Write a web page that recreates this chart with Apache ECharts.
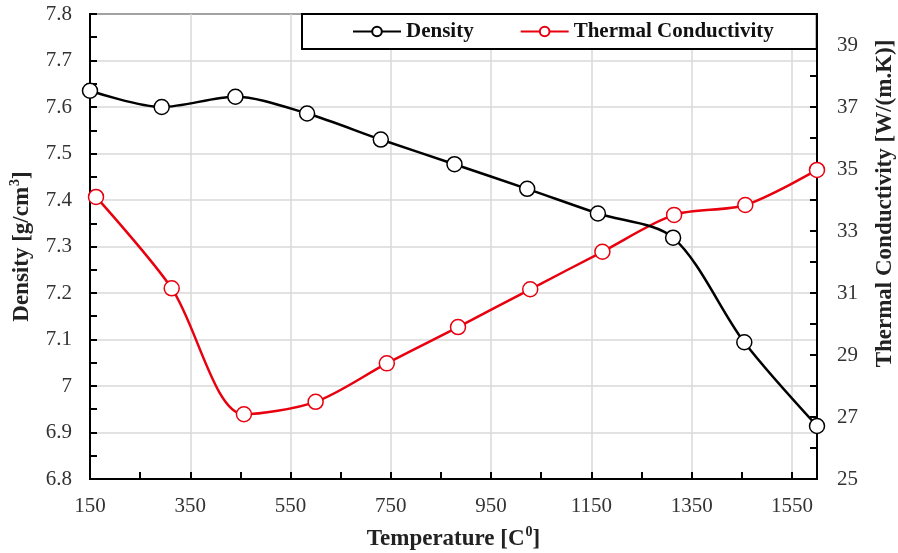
<!DOCTYPE html>
<html>
<head>
<meta charset="utf-8">
<script src="https://cdn.jsdelivr.net/npm/echarts@6/dist/echarts.min.js"></script>
<style>
  html, body { margin: 0; padding: 0; background: #fff; }
  #chart { width: 898px; height: 553px; }
</style>
</head>
<body>
<div id="chart"></div>
<script>
// values
const densityTemps = [150, 293, 440, 583, 730, 877, 1022, 1163, 1313, 1455, 1600];
const density = [7.635, 7.600, 7.622, 7.586, 7.530, 7.477, 7.424, 7.371, 7.319, 7.094, 6.914];
const conductivityTemps = [162, 313, 457, 600, 742, 884, 1028, 1172, 1315, 1457, 1600];
const conductivity = [34.1, 31.15, 27.09, 27.49, 28.73, 29.9, 31.12, 32.33, 33.52, 33.84, 34.97];

const serif = 'Liberation Serif';
const labelStyle = { fontFamily: serif, fontSize: 21, color: '#333' };
const nameStyle = {
  fontFamily: serif, fontSize: 23, fontWeight: 'bold', color: '#222',
  rich: { sup: { fontFamily: serif, fontSize: 14, fontWeight: 'bold', verticalAlign: 'top', padding: [0, 0, 14, 1] } }
};
const black = { color: '#000', width: 2 };

const chart = echarts.init(document.getElementById('chart'));
chart.setOption({
  animation: false,
  backgroundColor: '#fff',
  grid: {
    left: 90, right: 81, top: 14, bottom: 74,
    outerBoundsMode: 'none', containLabel: false,
    show: true, borderColor: '#000', borderWidth: 2
  },
  legend: {
    left: 302, top: 14,
    padding: [7, 43, 7, 50],
    itemGap: 46, itemWidth: 48, itemHeight: 12,
    backgroundColor: '#fff', borderColor: '#000', borderWidth: 2,
    textStyle: { fontFamily: serif, fontSize: 21, fontWeight: 'bold', color: '#111' },
    data: ['Density', 'Thermal Conductivity']
  },
  xAxis: {
    type: 'value', min: 150, max: 1600, interval: 200,
    name: 'Temperature [C{sup|0}]', nameLocation: 'middle', nameGap: 46,
    nameTextStyle: nameStyle,
    axisLine: { lineStyle: black },
    axisTick: { inside: true, length: 7, lineStyle: black },
    minorTick: { show: true, splitNumber: 2, length: 7, lineStyle: black },
    axisLabel: Object.assign({ margin: 17, showMaxLabel: false, formatter: v => String(v) }, labelStyle),
    splitLine: { show: true, lineStyle: { color: '#d9d9d9', width: 1.5 } }
  },
  yAxis: [{
    type: 'value', min: 6.8, max: 7.8, interval: 0.1,
    name: 'Density [g/cm{sup|3}]', nameLocation: 'middle', nameGap: 54,
    nameTextStyle: nameStyle,
    axisLine: { show: true, lineStyle: black },
    axisTick: { show: true, inside: true, length: 7, lineStyle: black },
    minorTick: { show: true, splitNumber: 2, length: 7, lineStyle: black },
    axisLabel: Object.assign({ margin: 18 }, labelStyle),
    splitLine: { show: true, lineStyle: { color: '#d9d9d9', width: 1.5 } }
  }, {
    type: 'value', position: 'right', min: 25, max: 40, interval: 2,
    name: 'Thermal Conductivity [W/(m.K)]', nameLocation: 'middle', nameGap: 57,
    nameTextStyle: Object.assign({}, nameStyle, { padding: [0, 0, 0, 86] }),
    axisLine: { show: true, lineStyle: black },
    axisTick: { show: true, inside: true, length: 7, lineStyle: black },
    minorTick: { show: true, splitNumber: 2, length: 7, lineStyle: black },
    axisLabel: Object.assign({ margin: 20, showMaxLabel: false }, labelStyle),
    splitLine: { show: false }
  }],
  series: [{
    name: 'Density',
    type: 'line',
    yAxisIndex: 0,
    smooth: 0.3,
    clip: false,
    data: densityTemps.map((t, i) => [t, density[i]]),
    symbol: 'circle', symbolSize: 15,
    lineStyle: { color: '#000', width: 2.5 },
    itemStyle: { color: '#fff', borderColor: '#000', borderWidth: 1.5 },
    z: 3
  }, {
    name: 'Thermal Conductivity',
    type: 'line',
    yAxisIndex: 1,
    smooth: 0.3,
    clip: false,
    data: conductivityTemps.map((t, i) => [t, conductivity[i]]),
    symbol: 'circle', symbolSize: 15,
    lineStyle: { color: '#e8000f', width: 2.5 },
    itemStyle: { color: '#fff', borderColor: '#e8000f', borderWidth: 1.5 },
    z: 2
  }]
});
</script>
</body>
</html>
